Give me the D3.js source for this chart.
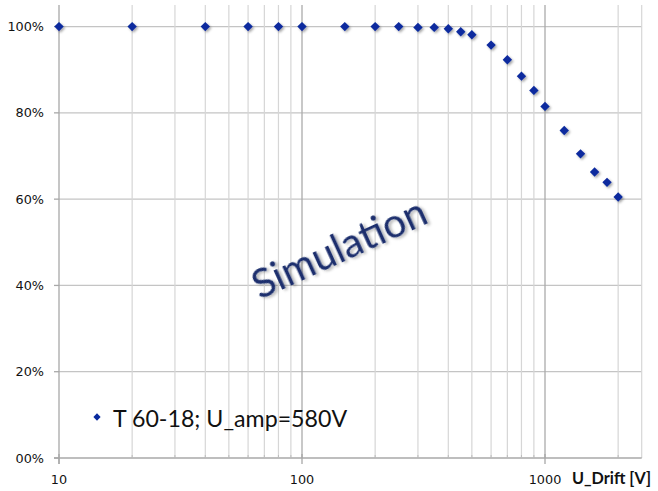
<!DOCTYPE html>
<html>
<head>
<meta charset="utf-8">
<script src="https://cdn.jsdelivr.net/npm/d3@7"></script>
<style>
  html, body { margin: 0; padding: 0; background: #fff; }
  svg { display: block; }
</style>
</head>
<body>
<svg id="chart" width="658" height="491"></svg>
<script>
// ---- data ----
const drift = [10, 20, 40, 60, 80, 100, 150, 200, 250, 300, 350, 400, 450, 500, 600, 700, 800, 900, 1000, 1200, 1400, 1600, 1800, 2000];
const efficiency = [1.0, 1.0, 1.0, 1.0, 1.0, 1.0, 1.0, 1.0, 1.0, 0.998, 0.998, 0.995, 0.988, 0.981, 0.957, 0.923, 0.885, 0.852, 0.815, 0.759, 0.705, 0.663, 0.639, 0.605];
const yTicks = [0, 0.2, 0.4, 0.6, 0.8, 1.0];
const yTickLabels = ["00%", "20%", "40%", "60%", "80%", "100%"];
const xMajor = [10, 100, 1000];
const xMajorLabels = ["10", "100", "1000"];
const xMinor = [20, 30, 40, 50, 60, 70, 80, 90, 200, 300, 400, 500, 600, 700, 800, 900, 2000];
const seriesName = "T 60-18; U_amp=580V";
const xTitle = "U_Drift [V]";
const watermark = "Simulation";

// ---- layout ----
const svg = d3.select("#chart");
const L = 59, R = 641.7, T = 5, B = 458;
const x = d3.scaleLog().domain([10, 2500]).range([L, R]);
const y = d3.scaleLinear().domain([0, 1.05]).range([B, T]);

const defs = svg.append("defs");
const f = defs.append("filter").attr("id", "shadow").attr("x", "-50%").attr("y", "-50%").attr("width", "200%").attr("height", "200%");
f.append("feDropShadow").attr("dx", 1.5).attr("dy", 1.5).attr("stdDeviation", 1.2).attr("flood-color", "#000").attr("flood-opacity", 0.35);
const f2 = defs.append("filter").attr("id", "tshadow").attr("x", "-20%").attr("y", "-50%").attr("width", "140%").attr("height", "200%");
f2.append("feDropShadow").attr("dx", 2).attr("dy", 2).attr("stdDeviation", 1.5).attr("flood-color", "#000").attr("flood-opacity", 0.3);

// horizontal grid
svg.append("g").selectAll("line").data(yTicks.filter(d => d > 0)).join("line")
  .attr("x1", L).attr("x2", R).attr("y1", d => y(d)).attr("y2", d => y(d))
  .attr("stroke", "#c4c4c4").attr("stroke-width", 1.2);

// vertical grid minor
svg.append("g").selectAll("line").data(xMinor).join("line")
  .attr("x1", d => x(d)).attr("x2", d => x(d)).attr("y1", T).attr("y2", B)
  .attr("stroke", "#d6d6d6").attr("stroke-width", 1.2);
// right border
svg.append("line").attr("x1", R).attr("x2", R).attr("y1", T).attr("y2", B)
  .attr("stroke", "#d6d6d6").attr("stroke-width", 1.2);
// vertical grid major
svg.append("g").selectAll("line").data(xMajor.filter(d => d > 10)).join("line")
  .attr("x1", d => x(d)).attr("x2", d => x(d)).attr("y1", T).attr("y2", B)
  .attr("stroke", "#ababab").attr("stroke-width", 1.3);

// axes lines
svg.append("line").attr("x1", L).attr("x2", L).attr("y1", T).attr("y2", B + 6).attr("stroke", "#a8a8a8").attr("stroke-width", 1.3);
svg.append("line").attr("x1", L - 5).attr("x2", R).attr("y1", B).attr("y2", B).attr("stroke", "#a8a8a8").attr("stroke-width", 1.3);

// y ticks
svg.append("g").selectAll("line").data(yTicks).join("line")
  .attr("x1", L - 5).attr("x2", L).attr("y1", d => y(d)).attr("y2", d => y(d))
  .attr("stroke", "#a8a8a8").attr("stroke-width", 1.3);
// x minor ticks (small, above axis)
svg.append("g").selectAll("line").data(xMinor).join("line")
  .attr("x1", d => x(d)).attr("x2", d => x(d)).attr("y1", B - 3).attr("y2", B)
  .attr("stroke", "#bdbdbd").attr("stroke-width", 1);
// x major ticks
svg.append("g").selectAll("line").data(xMajor).join("line")
  .attr("x1", d => x(d)).attr("x2", d => x(d)).attr("y1", B - 4).attr("y2", B + 6)
  .attr("stroke", "#a8a8a8").attr("stroke-width", 1.3);

// y labels
svg.append("g").selectAll("text").data(yTicks).join("text")
  .attr("x", 44).attr("y", d => y(d) + 4.5)
  .attr("text-anchor", "end")
  .attr("font-family", "DejaVu Sans, sans-serif").attr("font-size", 12.8).attr("fill", "#111")
  .text((d, i) => yTickLabels[i]);

// x labels
svg.append("g").selectAll("text").data(xMajor).join("text")
  .attr("x", d => x(d)).attr("y", 484)
  .attr("text-anchor", "middle")
  .attr("font-family", "DejaVu Sans, sans-serif").attr("font-size", 12.8).attr("fill", "#111")
  .text((d, i) => xMajorLabels[i]);

// x title
svg.append("text").attr("x", 572).attr("y", 484)
  .attr("font-family", "Lato, Open Sans, sans-serif").attr("font-weight", "bold").attr("font-size", 16.2).attr("fill", "#111")
  .text(xTitle);

// watermark
svg.append("text")
  .attr("transform", "translate(345,261) rotate(-24.5)")
  .attr("text-anchor", "middle")
  .attr("font-family", "Lato, Open Sans, sans-serif").attr("font-size", 40.5).attr("fill", "#1b2f6d")
  .attr("filter", "url(#tshadow)")
  .text(watermark);

// data points
const diamond = d3.symbol().type(d3.symbolDiamond2).size(56);
svg.append("g").selectAll("path").data(drift).join("path")
  .attr("d", diamond)
  .attr("transform", (d, i) => `translate(${x(d)},${y(efficiency[i])})`)
  .attr("fill", "#0a2a9e")
  .attr("filter", "url(#shadow)");

// legend
svg.append("path").attr("d", d3.symbol().type(d3.symbolDiamond2).size(34)).attr("transform", "translate(97,417)").attr("fill", "#0a2a9e");
svg.append("text").attr("x", 113).attr("y", 427)
  .attr("font-family", "Lato, Open Sans, sans-serif").attr("font-size", 23.2).attr("fill", "#111")
  .text(seriesName);
</script>
</body>
</html>
